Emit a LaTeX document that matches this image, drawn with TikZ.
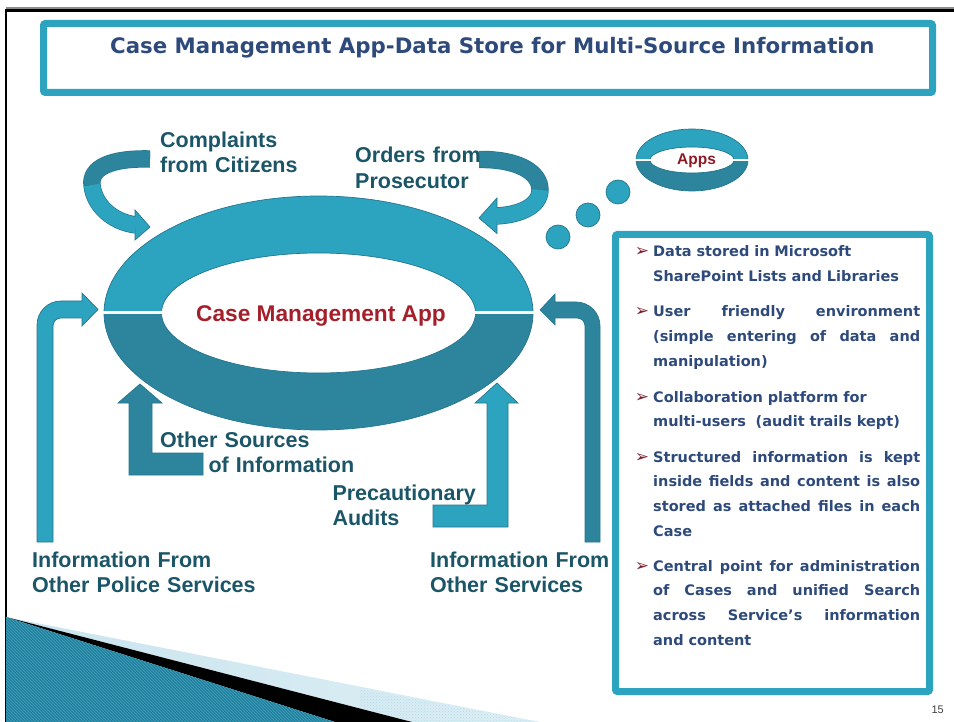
\documentclass[tikz,border=0pt]{standalone}
\usepackage{fontspec}
\setmainfont{Liberation Sans}
\newfontfamily\verd{DejaVu Sans}
\usetikzlibrary{positioning,patterns}

\definecolor{lteal}{HTML}{2CA3BF}
\definecolor{dteal}{HTML}{2C849D}
\definecolor{tedge}{HTML}{247690}
\definecolor{lbltxt}{HTML}{1B5568}
\definecolor{ttl}{HTML}{2E4A7B}
\definecolor{capred}{HTML}{A51F2B}
\definecolor{bulred}{HTML}{7A2431}
\definecolor{decoA}{HTML}{1F82A0}
\definecolor{decoB}{HTML}{4FB2CF}
\definecolor{decoL}{HTML}{C9E4EE}

% justified line of the notes box
\newcommand{\jl}[1]{\leavevmode\hbox to 267pt{\spaceskip=0.3em plus 1fil\relax #1}}
\newcommand{\bul}{\leavevmode\llap{\textcolor{bulred}{\verd\mdseries\fontsize{17}{17}\selectfont ➢}\hspace{4pt}}}

\tikzset{
  blk/.style={fill=#1, draw=tedge, line width=0.7pt},
  lbl/.style={text=lbltxt, font=\bfseries\fontsize{21.5}{25.5}\selectfont,
    anchor=base west, inner sep=0pt, text width=#1, align=left},
  lbl/.default=240pt,
  bpar/.style={text=ttl, font=\verd\bfseries\fontsize{14.5}{24.8}\selectfont,
    anchor=base west, inner sep=0pt, text width=267pt, align=left}
}

\begin{document}
\begin{tikzpicture}[x=1pt,y=-1pt]
  \useasboundingbox (0,0) rectangle (954,722);

  % slide frame and corner decoration
  \draw[black!45, line width=1.2pt] (6,8) -- (954,8);
  \draw[line width=2.2pt] (954,10.5) -- (6,10.5) -- (6,722);
  \shade[left color=decoL, right color=decoL!60] (6,617) -- (540,722) -- (412,722) -- cycle;
  \fill[pattern=crosshatch dots, pattern color=decoB!45] (360,689) -- (540,722) -- (412,722) -- (360,708) -- cycle;
  \fill[black] (6,617) -- (412,722) -- (335,722) -- cycle;
  \shade[left color=decoA, middle color=decoB, right color=decoA] (6,617) -- (335,722) -- (6,722) -- cycle;
  \fill[pattern=north west lines, pattern color=decoB!60!white, opacity=0.35] (6,617) -- (335,722) -- (6,722) -- cycle;

  % title
  \draw[lteal, line width=7pt, rounded corners=2pt] (43.5,23.5) rectangle (932.5,92.5);
  \node[font=\verd\bfseries\fontsize{21.3}{25}\selectfont, text=ttl, anchor=base west, inner sep=0pt]
    (title) at (110,53.3) {Case Management App-Data Store for Multi-Source Information};

  % main ring
  \filldraw[blk=lteal] (104,313) arc[start angle=180, end angle=360, x radius=214.5, y radius=117]
    -- (475.5,313) arc[start angle=0, end angle=-180, x radius=157, y radius=60] -- cycle;
  \filldraw[blk=dteal] (104,313) arc[start angle=180, end angle=0, x radius=214.5, y radius=117]
    -- (475.5,313) arc[start angle=0, end angle=180, x radius=157, y radius=60] -- cycle;
  \draw[white, line width=3pt] (100,313) -- (537,313);
  \node[font=\bfseries\fontsize{22.7}{27}\selectfont, text=capred, anchor=base, inner sep=0pt]
    (app) at (321,321.7) {Case Management App};

  % top curved arrows
  \draw[tedge, line width=17.4pt] (150,159) .. controls (110,158) and (90,168) .. (92,185)
    .. controls (94,205) and (112,222) .. (136,225);
  \filldraw[blk=lteal] (135,210) -- (150,227) -- (135,240) -- cycle;
  \draw[dteal, line width=16pt] (150,159) .. controls (110,158) and (90,168) .. (92,185);
  \draw[lteal, line width=16pt] (92,185) .. controls (94,205) and (112,222) .. (136,225);

  \draw[tedge, line width=17.4pt] (479,159.5) .. controls (518,159) and (540,172) .. (540,190)
    .. controls (540,206) and (520,215) .. (496,216);
  \filldraw[blk=lteal] (497,198) -- (479,218) -- (497,233.5) -- cycle;
  \draw[dteal, line width=16pt] (479,159.5) .. controls (518,159) and (540,172) .. (540,190);
  \draw[lteal, line width=16pt] (540,190) .. controls (540,206) and (520,215) .. (496,216);

  % side arrows
  \filldraw[blk=lteal] (37,542) -- (37,325) arc[start angle=180, end angle=270, radius=24]
    -- (82,301) -- (82,293) -- (98,309.5) -- (82,326) -- (82,318) -- (61,318)
    arc[start angle=270, end angle=180, radius=8] -- (53,542) -- cycle;
  \filldraw[blk=dteal] (600,542) -- (600,326) arc[start angle=0, end angle=-90, radius=24]
    -- (555,302) -- (555,294) -- (540,310) -- (555,325) -- (555,318) -- (577,318)
    arc[start angle=-90, end angle=0, radius=8] -- (585,542) -- cycle;

  % bottom arrows
  \filldraw[blk=dteal] (140,384) -- (162,403) -- (152,403) -- (152,453) -- (203,453)
    -- (203,475) -- (129,475) -- (129,403) -- (118,403) -- cycle;
  \filldraw[blk=lteal] (497,383) -- (518,403) -- (508,403) -- (508,527) -- (433,527)
    -- (433,505) -- (487,505) -- (487,403) -- (475,403) -- cycle;

  % apps ring and dots
  \filldraw[blk=lteal] (636,160) arc[start angle=180, end angle=360, x radius=56, y radius=31]
    -- (734,160) arc[start angle=0, end angle=-180, x radius=42, y radius=13] -- cycle;
  \filldraw[blk=dteal] (636,160) arc[start angle=180, end angle=0, x radius=56, y radius=31]
    -- (734,160) arc[start angle=0, end angle=180, x radius=42, y radius=13] -- cycle;
  \draw[white, line width=2.5pt] (633,160) -- (751,160);
  \node[font=\bfseries\fontsize{15.5}{18}\selectfont, text=capred!85!black, anchor=base west, inner sep=0pt]
    (apps) at (677,165) {Apps};
  \filldraw[blk=lteal] (618,192) circle[radius=12];
  \filldraw[blk=lteal] (588,215) circle[radius=12];
  \filldraw[blk=lteal] (558,237) circle[radius=12];

  % labels
  \node[lbl] (cmp) at (160,147.3) {Complaints\\from Citizens};
  \node[lbl] (ord) at (355,162.7) {Orders from\\Prosecutor};
  \node[lbl] (oth) at (160,447.3) {Other Sources\\\hspace*{48.3pt}of Information};
  \node[lbl] (pre) at (332.3,500) {Precautionary\\Audits};
  \node[lbl] (ipol) at (32,567.3) {Information From\\Other Police Services};
  \node[lbl] (isvc) at (430,567.3) {Information From\\Other Services};

  % notes box
  \draw[lteal, line width=7pt, rounded corners=2pt] (615.5,234.5) rectangle (929.5,691.5);
  \node[bpar] (b1) at (653,257) {\bul Data stored in Microsoft\\SharePoint Lists and Libraries};
  \node[bpar] (b2) at (653,317) {\bul\jl{User friendly environment}\\
    \jl{(simple entering of data and}\\manipulation)};
  \node[bpar] (b3) at (653,402) {\bul Collaboration platform for\\multi-users\ \ (audit trails kept)};
  \node[bpar] (b4) at (653,462) {\bul\jl{Structured information is kept}\\
    \jl{inside fields and content is also}\\\jl{stored as attached files in each}\\Case};
  \node[bpar] (b5) at (653,571) {\bul\jl{Central point for administration}\\
    \jl{of Cases and unified Search}\\\jl{across Service’s information}\\and content};

  \node[font=\fontsize{11}{13}\selectfont, text=black!75, anchor=base east, inner sep=0pt]
    (pg) at (944,713) {15};
\end{tikzpicture}
\end{document}
